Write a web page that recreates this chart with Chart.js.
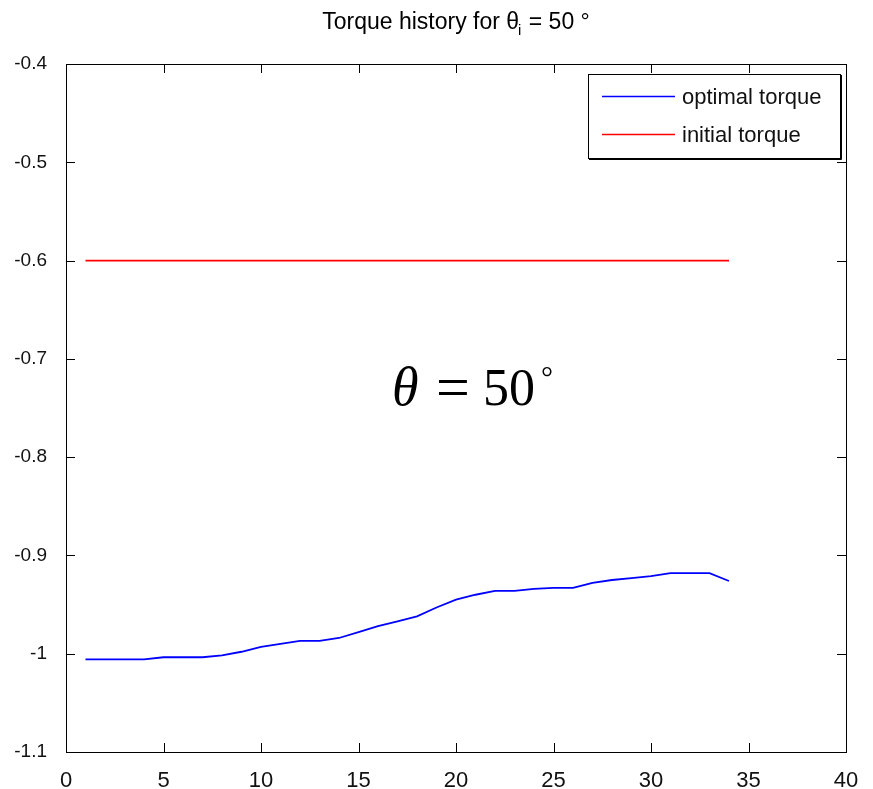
<!DOCTYPE html>
<html>
<head>
<meta charset="utf-8">
<script src="https://cdn.jsdelivr.net/npm/chart.js@4.4.1/dist/chart.umd.min.js"></script>
<style>
html,body{margin:0;padding:0;background:#fff;}
#wrap{width:873px;height:789px;position:relative;}
</style>
</head>
<body>
<div id="wrap"><canvas id="c" width="873" height="789"></canvas></div>
<script>
// ---- data ----
const xValues = [1,2,3,4,5,6,7,8,9,10,11,12,13,14,15,16,17,18,19,20,21,22,23,24,25,26,27,28,29,30,31,32,33,34];
const optimalTorque = [-1.0057,-1.0057,-1.0057,-1.0057,-1.0036,-1.0036,-1.0036,-1.0016,-0.998,-0.993,-0.990,-0.987,-0.987,-0.984,-0.978,-0.972,-0.967,-0.962,-0.953,-0.945,-0.940,-0.936,-0.936,-0.934,-0.933,-0.933,-0.928,-0.925,-0.923,-0.921,-0.918,-0.918,-0.918,-0.926];
const initialTorque = [-0.6,-0.6,-0.6,-0.6,-0.6,-0.6,-0.6,-0.6,-0.6,-0.6,-0.6,-0.6,-0.6,-0.6,-0.6,-0.6,-0.6,-0.6,-0.6,-0.6,-0.6,-0.6,-0.6,-0.6,-0.6,-0.6,-0.6,-0.6,-0.6,-0.6,-0.6,-0.6,-0.6,-0.6];
const seriesNames = ['optimal torque','initial torque'];
const xTicks = [0,5,10,15,20,25,30,35,40];
const xTickLabels = ['0','5','10','15','20','25','30','35','40'];
const yTicks = [-1.1,-1.0,-0.9,-0.8,-0.7,-0.6,-0.5,-0.4];
const yTickLabels = ['-1.1','-1','-0.9','-0.8','-0.7','-0.6','-0.5','-0.4'];
const titleParts = ['Torque history for \u03b8', 'i', ' = 50 \u00b0'];
const annotationText = ['\u03b8', '=', '50', '\u00b0'];
const annotationAnchor = {x: 16.72, y: -0.747};

const toXY = (ys) => xValues.map((x, i) => ({x: x, y: ys[i]}));

const frame = {
  id: 'frame',
  afterDraw(chart) {
    const ctx = chart.ctx, a = chart.chartArea;
    const xs = chart.scales.x, ys = chart.scales.y;
    ctx.save();
    ctx.strokeStyle = '#000';
    ctx.lineWidth = 1;
    ctx.strokeRect(Math.round(a.left)+0.5, Math.round(a.top)+0.5, Math.round(a.right-a.left), Math.round(a.bottom-a.top));
    const tl = 9;
    ctx.beginPath();
    xTicks.forEach(v => {
      const p = Math.round(xs.getPixelForValue(v)) + 0.5;
      ctx.moveTo(p, a.bottom); ctx.lineTo(p, a.bottom - tl);
      ctx.moveTo(p, a.top); ctx.lineTo(p, a.top + tl);
    });
    yTicks.forEach(v => {
      const p = Math.round(ys.getPixelForValue(v)) + 0.5;
      ctx.moveTo(a.left, p); ctx.lineTo(a.left + tl, p);
      ctx.moveTo(a.right, p); ctx.lineTo(a.right - tl, p);
    });
    ctx.stroke();

    // title
    ctx.fillStyle = '#000';
    ctx.font = '23px "Liberation Sans", Arial, sans-serif';
    ctx.textBaseline = 'alphabetic';
    const w0 = ctx.measureText(titleParts[0]).width;
    ctx.font = '15px "Liberation Sans", Arial, sans-serif';
    const w1 = ctx.measureText(titleParts[1]).width;
    ctx.font = '23px "Liberation Sans", Arial, sans-serif';
    const w2 = ctx.measureText(titleParts[2]).width;
    const cx = (a.left + a.right) / 2;
    let tx = cx - (w0 + w1 + w2) / 2;
    const tb = 29;
    ctx.textAlign = 'left';
    ctx.fillText(titleParts[0], tx, tb);
    tx += w0 - 1;
    ctx.font = '15px "Liberation Sans", Arial, sans-serif';
    ctx.fillText(titleParts[1], tx, tb + 6);
    tx += w1 + 1;
    ctx.font = '23px "Liberation Sans", Arial, sans-serif';
    ctx.fillText(titleParts[2], tx, tb);

    // annotation
    const ax = xs.getPixelForValue(annotationAnchor.x);
    const ay = ys.getPixelForValue(annotationAnchor.y);
    ctx.font = 'italic 54px "Liberation Serif", "Times New Roman", serif';
    ctx.fillText(annotationText[0], ax, ay);
    ctx.font = '60px "Liberation Serif", "Times New Roman", serif';
    ctx.fillText(annotationText[1], ax + 44, ay + 2);
    ctx.font = '52px "Liberation Serif", "Times New Roman", serif';
    ctx.fillText(annotationText[2], ax + 91, ay);
    ctx.font = '30px "Liberation Serif", "Times New Roman", serif';
    ctx.fillText(annotationText[3], ax + 149, ay - 18);

    // legend
    const L = 588, T = 74, R = 840, B = 158;
    ctx.fillStyle = '#fff';
    ctx.fillRect(L, T, R - L, B - T);
    ctx.strokeStyle = '#000';
    ctx.lineWidth = 1;
    ctx.strokeRect(L + 0.5, T + 0.5, R - L, B - T);
    ctx.beginPath();
    ctx.moveTo(L + 1, B + 1.5); ctx.lineTo(R + 1.5, B + 1.5); ctx.lineTo(R + 1.5, T + 1);
    ctx.stroke();
    ctx.font = '22px "Liberation Sans", Arial, sans-serif';
    ctx.textBaseline = 'middle';
    chart.data.datasets.forEach((ds, i) => {
      const y = 96 + i * 38 + 0.5;
      ctx.strokeStyle = ds.borderColor;
      ctx.lineWidth = 1.5;
      ctx.beginPath(); ctx.moveTo(602, y); ctx.lineTo(675, y); ctx.stroke();
      ctx.fillStyle = '#111';
      ctx.fillText(ds.label, 682, y + 1);
    });
    ctx.restore();
  }
};

new Chart(document.getElementById('c'), {
  type: 'line',
  data: {
    datasets: [
      {label: seriesNames[0], data: toXY(optimalTorque), borderColor: '#0000ff', borderWidth: 1.8, pointRadius: 0, tension: 0, fill: false},
      {label: seriesNames[1], data: toXY(initialTorque), borderColor: '#ff0000', borderWidth: 1.8, pointRadius: 0, tension: 0, fill: false}
    ]
  },
  options: {
    responsive: false,
    animation: false,
    events: [],
    layout: {padding: {left: 0, top: 64, right: 27, bottom: 0}},
    plugins: {legend: {display: false}, tooltip: {enabled: false}, title: {display: false}},
    scales: {
      x: {
        type: 'linear', min: 0, max: 40,
        afterBuildTicks: s => { s.ticks = xTicks.map(v => ({value: v})); },
        afterFit: s => { s.height = 37; },
        grid: {display: false}, border: {display: false},
        ticks: {
          autoSkip: false, maxRotation: 0, padding: 8, color: '#111',
          font: {family: '"Liberation Sans", Arial, sans-serif', size: 22},
          callback: (v) => { const i = xTicks.indexOf(v); return i >= 0 ? xTickLabels[i] : ''; }
        }
      },
      y: {
        type: 'linear', min: -1.1, max: -0.4,
        afterBuildTicks: s => { s.ticks = yTicks.map(v => ({value: v})); },
        afterFit: s => { s.width = 66; },
        grid: {display: false}, border: {display: false},
        ticks: {
          autoSkip: false, padding: 11, color: '#111',
          font: {family: '"Liberation Sans", Arial, sans-serif', size: 19},
          callback: (v) => { const i = yTicks.findIndex(t => Math.abs(t - v) < 1e-9); return i >= 0 ? yTickLabels[i] : ''; }
        }
      }
    }
  },
  plugins: [frame]
});
</script>
</body>
</html>
